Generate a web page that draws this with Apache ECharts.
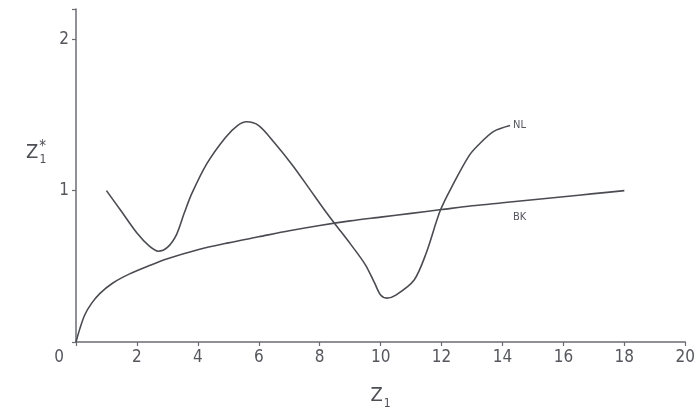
<!DOCTYPE html>
<html>
<head>
<meta charset="utf-8">
<script src="https://cdn.jsdelivr.net/npm/echarts@6/dist/echarts.min.js"></script>
<style>html,body{margin:0;padding:0;background:#fff}#c{width:698px;height:418px}</style>
</head>
<body>
<div id="c"></div>
<script>
// Data
const xTicks = [0, 2, 4, 6, 8, 10, 12, 14, 16, 18, 20];
const yTicks = [0, 1, 2];
const nlPoints = [
  [1.0, 1.0], [1.5, 0.86], [2.0, 0.72], [2.4, 0.635], [2.7, 0.60], [3.0, 0.625],
  [3.3, 0.71], [3.55, 0.85], [3.8, 0.98], [4.3, 1.18], [4.9, 1.35], [5.3, 1.43], [5.6, 1.455],
  [6.0, 1.43], [6.5, 1.32], [7.1, 1.17], [7.6, 1.03], [8.2, 0.86], [8.5, 0.78],
  [9.0, 0.65], [9.5, 0.51], [9.8, 0.39], [10.0, 0.31], [10.2, 0.29], [10.5, 0.31],
  [11.1, 0.41], [11.5, 0.59], [11.96, 0.87], [12.4, 1.05], [12.9, 1.23],
  [13.2, 1.30], [13.7, 1.39], [14.25, 1.43]
];
const bkPoints = [
  [0, 0], [0.13, 0.09], [0.29, 0.18], [0.51, 0.255], [0.78, 0.32], [1.21, 0.39],
  [1.76, 0.45], [2.41, 0.505], [3, 0.55], [4, 0.61], [5, 0.655], [6, 0.695], [7, 0.735],
  [8, 0.77], [9, 0.80], [10, 0.825], [11, 0.85], [12, 0.875], [13, 0.90],
  [14, 0.92], [15, 0.94], [16, 0.96], [17, 0.98], [18, 1.0]
];
const nlLabel = {name: 'NL', coord: [14.25, 1.43]};
const bkLabel = {name: 'BK', coord: [14.56, 0.825]};

const FONT = "'DejaVu Sans Condensed', 'Liberation Sans Narrow', 'DejaVu Sans', sans-serif";
const INK = '#4d4f55';

const chart = echarts.init(document.getElementById('c'));
chart.setOption({
  animation: false,
  backgroundColor: '#ffffff',
  grid: {left: 76, right: 1, top: 9, bottom: 76, containLabel: false},
  xAxis: {
    type: 'value', min: 0, max: 20, interval: 2,
    name: '{z|Z}{s|1}', nameLocation: 'middle', nameGap: 44,
    nameTextStyle: {
      rich: {
        z: {fontFamily: FONT, fontSize: 20, color: INK, verticalAlign: 'top', lineHeight: 24},
        s: {fontFamily: FONT, fontSize: 12, color: INK, verticalAlign: 'bottom', lineHeight: 24, padding: [10, 0, 0, 1]}
      }
    },
    axisLine: {show: true, lineStyle: {color: '#6a6c72', width: 1.5}},
    axisTick: {show: true, length: 4, lineStyle: {color: '#6a6c72', width: 1.2}},
    splitLine: {show: false},
    axisLabel: {
      margin: 7, fontFamily: FONT, fontSize: 17, color: '#55575d',
      formatter: function (v) { return xTicks.indexOf(v) === 0 ? '{o|' + v + '}' : String(v); },
      rich: {o: {fontFamily: FONT, fontSize: 17, color: '#55575d', padding: [0, 34, 0, 0]}}
    }
  },
  yAxis: {
    type: 'value', min: 0, max: 2.2, interval: 1,
    name: '{z|Z}{s|1}{t|*}', nameLocation: 'middle', nameRotate: 0, nameGap: 30,
    nameTextStyle: {
      padding: [0, 0, 46, 0],
      rich: {
        z: {fontFamily: FONT, fontSize: 20, color: INK, lineHeight: 26},
        s: {fontFamily: FONT, fontSize: 12, color: INK, verticalAlign: 'bottom', lineHeight: 26, padding: [12, 0, 0, 1]},
        t: {fontFamily: FONT, fontSize: 15, color: INK, verticalAlign: 'top', lineHeight: 26, padding: [0, 0, 10, -7]}
      }
    },
    axisLine: {show: true, lineStyle: {color: '#6a6c72', width: 1.5}},
    axisTick: {show: true, length: 4, lineStyle: {color: '#6a6c72', width: 1.2}},
    splitLine: {show: false},
    axisLabel: {
      margin: 7, fontFamily: FONT, fontSize: 17, color: '#55575d',
      formatter: function (v) { return yTicks.indexOf(v) > 0 ? String(v) : ''; }
    }
  },
  series: [
    {
      name: 'NL', type: 'line', data: nlPoints, smooth: 0.3, showSymbol: false,
      lineStyle: {color: '#4a4c52', width: 1.6},
      markPoint: {
        symbol: 'circle', symbolSize: 0,
        label: {show: true, position: 'right', distance: 3, formatter: '{b}', fontFamily: FONT, fontSize: 11, color: '#55575d'},
        data: [nlLabel]
      }
    },
    {
      name: 'BK', type: 'line', data: bkPoints, smooth: 0.3, showSymbol: false,
      lineStyle: {color: '#4a4c52', width: 1.6},
      markPoint: {
        symbol: 'circle', symbolSize: 0,
        label: {show: true, position: 'inside', formatter: '{b}', fontFamily: FONT, fontSize: 11, color: '#55575d'},
        data: [bkLabel]
      }
    }
  ]
});
</script>
</body>
</html>
